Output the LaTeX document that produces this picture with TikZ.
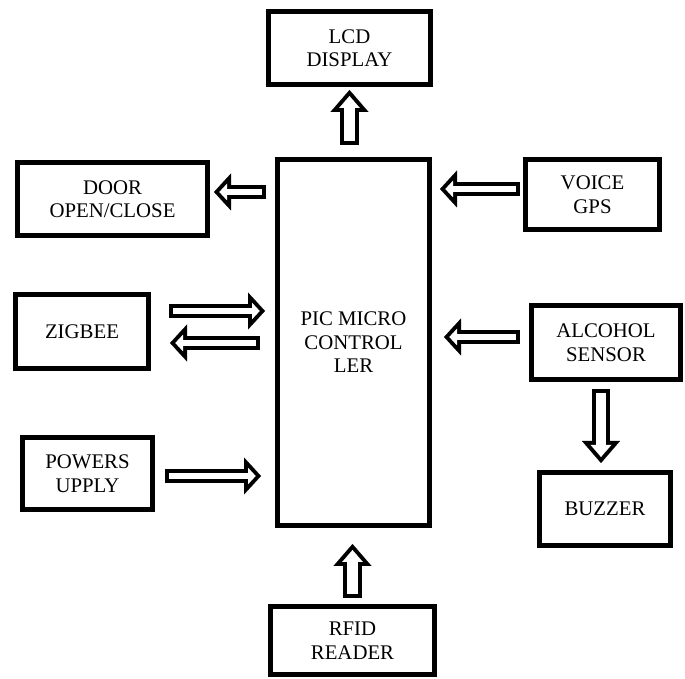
\documentclass[tikz,border=0pt]{standalone}
\usepackage{fontspec}
\setmainfont{Liberation Serif}
\usepackage{tikz}
\usetikzlibrary{positioning,calc,arrows.meta}

\newcommand{\fatarrow}[3]{%
  \draw[#1out] #2 -- #3;
  \draw[#1in] #2 -- #3;}

\begin{document}
\begin{tikzpicture}
[
  x=1pt, y=1pt,
  on grid,
  block/.style={rectangle, draw, line width=5pt, inner sep=0pt, align=center,
    font=\fontsize{20.8}{23.5}\selectfont},
  hout/.style={line width=13.5pt, -{Triangle[length=17pt, width=37pt, line width=0.1pt]}},
  hin/.style={white, line width=5.5pt, shorten <=4pt, shorten >=5.4pt,
    -{Triangle[length=7.6pt, width=16.5pt, line width=0.1pt]}},
  vout/.style={line width=18.5pt, -{Triangle[length=22pt, width=38pt, line width=0.1pt]}},
  vin/.style={white, line width=10.5pt, shorten <=4pt, shorten >=6.1pt,
    -{Triangle[length=11.9pt, width=20.6pt, line width=0.1pt]}}
]
 \useasboundingbox (0,0) rectangle (685,679);

 \node[block, minimum width=152pt, minimum height=366pt] (main) at (353.5,336.5) {PIC MICRO\\CONTROL\\LER};
 \node[block, minimum width=162pt, minimum height=73pt] (lcd) [above left=294.5pt and 4pt of main] {LCD\\DISPLAY};
 \node[block, minimum width=190pt, minimum height=73pt] (door) [above left=143.5pt and 241pt of main] {DOOR\\OPEN/CLOSE};
 \node[block, minimum width=134pt, minimum height=70pt] (voice) [above right=148pt and 239pt of main] {VOICE\\GPS};
 \node[block, minimum width=133pt, minimum height=74pt] (zigbee) [above left=11pt and 271.5pt of main] {ZIGBEE};
 \node[block, minimum width=149pt, minimum height=74pt] (alcohol) [right=252.5pt of main] {ALCOHOL\\SENSOR};
 \node[block, minimum width=131pt, minimum height=73pt] (buzzer) [below left=166.5pt and 1pt of alcohol] {BUZZER};
 \node[block, minimum width=130pt, minimum height=72pt] (power) [below left=131pt and 266pt of main] {POWERS\\UPPLY};
 \node[block, minimum width=164pt, minimum height=68pt] (rfid) [below left=298pt and 1pt of main] {RFID\\READER};

 \fatarrow{v}{($(main.north -| lcd)+(0,12)$)}{($(lcd.south)+(0,-3)$)}
 \fatarrow{v}{($(rfid.north)+(0,6)$)}{($(main.south -| rfid)+(0,-16)$)}
 \fatarrow{h}{($(main.west |- door)+(-9,7)$)}{($(door.east)+(4,7)$)}
 \fatarrow{h}{($(voice.west)+(-3,5.5)$)}{($(main.east |- voice)+(8,5.5)$)}
 \fatarrow{h}{($(zigbee.east)+(18,20.5)$)}{($(main.west |- zigbee)+(-10,20.5)$)}
 \fatarrow{h}{($(main.west |- zigbee)+(-15,-11.5)$)}{($(zigbee.east)+(19,-11.5)$)}
 \fatarrow{h}{($(alcohol.west)+(-9,5.5)$)}{($(main.east |- alcohol)+(12,5.5)$)}
 \fatarrow{v}{($(alcohol.south -| buzzer)+(-4,-7)$)}{($(buzzer.north)+(-4,7)$)}
 \fatarrow{h}{($(power.east)+(10,-2.5)$)}{($(main.west |- power)+(-14,-2.5)$)}
\end{tikzpicture}
\end{document}
